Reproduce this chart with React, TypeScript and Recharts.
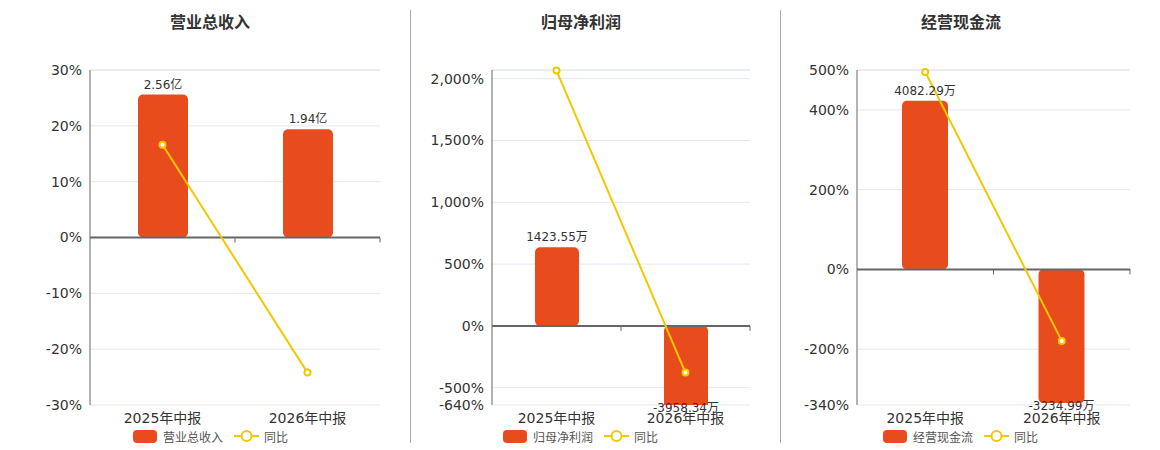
import React from "react";
import {
  ComposedChart,
  Bar,
  Line,
  XAxis,
  YAxis,
  CartesianGrid,
  ReferenceLine,
  LabelList,
} from "recharts";

const categories = ["2025年中报", "2026年中报"];

const revenueValues = [2.56, 1.94]; // 亿
const revenueYoY = [16.6, -24.2];
const revenueTicks = [-30, -20, -10, 0, 10, 20, 30];

const profitValues = [1423.55, -3958.34]; // 万
const profitYoY = [2065, -378.07];
const profitTicks = [-640, -500, 0, 500, 1000, 1500, 2000];

const cashValues = [4082.29, -3234.99]; // 万
const cashYoY = [495, -179.24];
const cashTicks = [-340, -200, 0, 200, 400, 500];

const BAR_COLOR = "#E84C1D";
const LINE_COLOR = "#F2C800";
const FONT = '"DejaVu Sans", "Noto Sans CJK SC", sans-serif';

const CHART_H = 450;
const MARGIN_TOP = 70;
const X_AXIS_H = 25;
const MARGIN_BOTTOM = 20;
const PLOT_BOTTOM = CHART_H - MARGIN_BOTTOM - X_AXIS_H;
const PLOT_H = PLOT_BOTTOM - MARGIN_TOP;
const Y_AXIS_W = 90;

interface PanelProps {
  title: string;
  seriesName: string;
  unit: string;
  values: number[];
  yoy: number[];
  ticks: number[];
  pctDomain: [number, number];
  barDomain: [number, number];
  overflow?: boolean;
  plotLeft: number;
  plotRight: number;
  titleCenter: number;
  legendLeft: number;
  barSize: number;
}

function formatPct(v: number): string {
  return v.toLocaleString("en-US") + "%";
}

function makeBarLabel(unit: string) {
  return (props: any) => {
    const { x, y, width, height, value } = props;
    const top = Math.min(y, y + height);
    const bottom = Math.max(y, y + height);
    const cx = x + width / 2;
    const ty = value >= 0 ? top - 6 : Math.min(bottom, PLOT_BOTTOM) + 7;
    return (
      <text
        x={cx}
        y={ty}
        textAnchor="middle"
        fontSize={12}
        fill="#333"
        fontFamily={FONT}
      >
        {`${value}${unit}`}
      </text>
    );
  };
}

// category label plus the small tick mark that sits on the zero line
function makeXTick(zeroY: number, band: number) {
  return (props: any) => {
    const { x, y, payload } = props;
    const tx = x + band / 2;
    return (
      <g>
        <line x1={tx} y1={zeroY} x2={tx} y2={zeroY + 5} stroke="#666" />
        <text
          x={x}
          y={y}
          dy="0.71em"
          textAnchor="middle"
          fontSize={14}
          fill="#333"
          fontFamily={FONT}
        >
          {payload.value}
        </text>
      </g>
    );
  };
}

function Panel(p: PanelProps): React.ReactElement {
  const data = categories.map((name, i) => ({
    name,
    amount: p.values[i],
    yoy: p.yoy[i],
  }));
  const left = p.plotLeft - Y_AXIS_W;
  const width = p.plotRight - p.plotLeft + Y_AXIS_W + 20;
  const [lo, hi] = p.pctDomain;
  const zeroY = MARGIN_TOP + (hi / (hi - lo)) * PLOT_H;
  const band = (p.plotRight - p.plotLeft) / categories.length;

  return (
    <>
      <div
        style={{
          position: "absolute",
          left: p.titleCenter - 100,
          top: 12,
          width: 200,
          textAlign: "center",
          fontSize: 16,
          fontWeight: "bold",
          lineHeight: "22px",
          color: "#333",
          fontFamily: FONT,
        }}
      >
        {p.title}
      </div>
      <div style={{ position: "absolute", left, top: 0 }}>
        <ComposedChart
          width={width}
          height={CHART_H}
          data={data}
          margin={{ top: MARGIN_TOP, right: 20, left: 0, bottom: MARGIN_BOTTOM }}
        >
          <CartesianGrid yAxisId="left" vertical={false} stroke="#e2e7f0" />
          <XAxis
            dataKey="name"
            height={X_AXIS_H}
            axisLine={false}
            tickLine={false}
            tick={makeXTick(zeroY, band)}
            interval={0}
          />
          <YAxis
            yAxisId="left"
            width={Y_AXIS_W}
            domain={p.pctDomain}
            ticks={p.ticks}
            interval={0}
            tickFormatter={formatPct}
            axisLine={{ stroke: "#666" }}
            tickLine={false}
            tick={{ fontSize: 14, fill: "#333", fontFamily: FONT }}
          />
          <YAxis
            yAxisId="bar"
            orientation="right"
            hide
            domain={p.barDomain}
            allowDataOverflow={p.overflow}
          />
          <ReferenceLine yAxisId="left" y={hi} stroke="#e2e7f0" />
          <Bar
            yAxisId="bar"
            dataKey="amount"
            name={p.seriesName}
            fill={BAR_COLOR}
            barSize={p.barSize}
            radius={5}
            isAnimationActive={false}
          >
            <LabelList dataKey="amount" content={makeBarLabel(p.unit)} />
          </Bar>
          <ReferenceLine yAxisId="left" y={0} stroke="#666" strokeWidth={2} />
          <Line
            yAxisId="left"
            type="linear"
            dataKey="yoy"
            name="同比"
            stroke={LINE_COLOR}
            strokeWidth={2}
            dot={{ r: 3, fill: "#fff", stroke: LINE_COLOR, strokeWidth: 2 }}
            isAnimationActive={false}
          />
        </ComposedChart>
      </div>
      <div
        style={{
          position: "absolute",
          left: p.legendLeft,
          top: 428,
          height: 16,
          display: "flex",
          alignItems: "center",
          fontSize: 12,
          color: "#555",
          fontFamily: FONT,
        }}
      >
        <span
          style={{
            display: "inline-block",
            width: 24,
            height: 13,
            borderRadius: 4,
            background: BAR_COLOR,
            marginRight: 6,
          }}
        />
        <span style={{ marginRight: 11 }}>{p.seriesName}</span>
        <svg width={25} height={14} style={{ marginRight: 5 }}>
          <line x1={0} y1={7} x2={25} y2={7} stroke={LINE_COLOR} strokeWidth={2} />
          <circle cx={12.5} cy={7} r={5} fill="#fff" stroke={LINE_COLOR} strokeWidth={2} />
        </svg>
        <span>同比</span>
      </div>
    </>
  );
}

function Divider({ x }: { x: number }): React.ReactElement {
  return (
    <div
      style={{
        position: "absolute",
        left: x,
        top: 10,
        width: 1,
        height: 433,
        background: "#aaa",
      }}
    />
  );
}

export default function App(): React.ReactElement {
  return (
    <div
      style={{
        position: "absolute",
        left: 0,
        top: 0,
        width: 1160,
        height: 450,
        background: "#fff",
        overflow: "hidden",
      }}
    >
      <Panel
        title="营业总收入"
        seriesName="营业总收入"
        unit="亿"
        values={revenueValues}
        yoy={revenueYoY}
        ticks={revenueTicks}
        pctDomain={[-30, 30]}
        barDomain={[-3, 3]}
        plotLeft={90}
        plotRight={380}
        titleCenter={210}
        legendLeft={133}
        barSize={50}
      />
      <Divider x={410} />
      <Panel
        title="归母净利润"
        seriesName="归母净利润"
        unit="万"
        values={profitValues}
        yoy={profitYoY}
        ticks={profitTicks}
        pctDomain={[-640, 2070]}
        barDomain={[-1432, 4630]}
        overflow
        plotLeft={492}
        plotRight={750}
        titleCenter={581}
        legendLeft={503}
        barSize={44}
      />
      <Divider x={780} />
      <Panel
        title="经营现金流"
        seriesName="经营现金流"
        unit="万"
        values={cashValues}
        yoy={cashYoY}
        ticks={cashTicks}
        pctDomain={[-340, 500]}
        barDomain={[-3281, 4825]}
        plotLeft={857}
        plotRight={1130}
        titleCenter={961}
        legendLeft={883}
        barSize={46}
      />
    </div>
  );
}
